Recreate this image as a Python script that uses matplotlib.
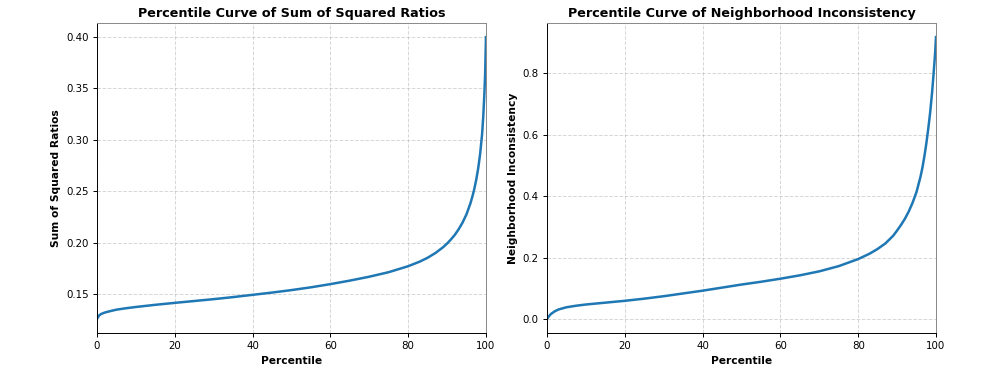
import matplotlib.pyplot as plt

plt.rcParams['font.family'] = ['DejaVu Sans']

# Percentile positions
percentiles = [0, 0.5, 1, 2, 3, 5, 7.5, 10, 15, 20, 25, 30, 35, 40, 45, 50, 55, 60,
               65, 70, 75, 80, 83, 85, 87, 89, 90, 91, 92, 93, 94, 95, 96, 96.5, 97,
               97.5, 98, 98.5, 99, 99.3, 99.6, 99.8, 100]

# Sum of squared ratios at each percentile
ssr_values = [0.1258, 0.1290, 0.1305, 0.1320, 0.1330, 0.1348, 0.1362, 0.1374, 0.1395,
              0.1414, 0.1432, 0.1450, 0.1470, 0.1492, 0.1514, 0.1538, 0.1565, 0.1596,
              0.1630, 0.1668, 0.1712, 0.1770, 0.1815, 0.1852, 0.1898, 0.1955, 0.1990,
              0.2030, 0.2075, 0.2130, 0.2195, 0.2275, 0.2380, 0.2445, 0.2520, 0.2610,
              0.2720, 0.2860, 0.3050, 0.3220, 0.3450, 0.3650, 0.3995]

# Neighborhood inconsistency at each percentile
ni_values = [0.000, 0.009, 0.016, 0.025, 0.031, 0.038, 0.043, 0.047, 0.053, 0.059,
             0.066, 0.074, 0.083, 0.092, 0.102, 0.112, 0.121, 0.131, 0.142, 0.155,
             0.172, 0.195, 0.213, 0.228, 0.246, 0.271, 0.288, 0.306, 0.326, 0.350,
             0.379, 0.414, 0.462, 0.492, 0.528, 0.570, 0.618, 0.672, 0.738, 0.785,
             0.835, 0.870, 0.918]

fig, axes = plt.subplots(1, 2, figsize=(9.97, 3.73), dpi=100)
fig.subplots_adjust(left=0.0973, right=0.9388, bottom=0.1072, top=0.9383, wspace=0.157)

panels = [
    (axes[0], ssr_values, 'Percentile Curve of Sum of Squared Ratios', 'Sum of Squared Ratios'),
    (axes[1], ni_values, 'Percentile Curve of Neighborhood Inconsistency', 'Neighborhood Inconsistency'),
]

for ax, vals, title, ylabel in panels:
    ax.plot(percentiles, vals, color='#1f77b4', linewidth=1.8)
    ax.set_xlim(0, 100)
    ax.set_title(title, fontsize=9.2, fontweight='bold', pad=4.5)
    ax.set_xlabel('Percentile', fontsize=7.7, fontweight='bold', labelpad=3)
    ax.set_ylabel(ylabel, fontsize=7.7, fontweight='bold', labelpad=3.5)
    ax.tick_params(labelsize=7.4, length=3, width=0.7, pad=3)
    ax.grid(True, linestyle='--', alpha=0.5, linewidth=0.7)
    for s in ax.spines.values():
        s.set_linewidth(0.7)
    ax.spines['top'].set_color('#888888')
    ax.spines['right'].set_color('#888888')

fig.savefig('out.png', dpi=100)
